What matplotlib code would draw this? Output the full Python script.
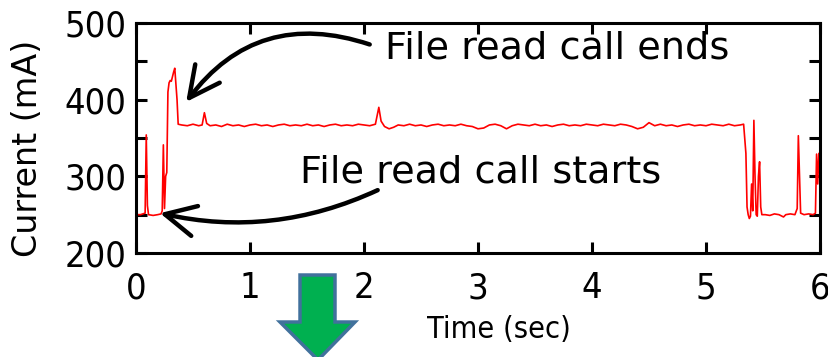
import matplotlib
matplotlib.use('Agg')
import matplotlib.pyplot as plt
from matplotlib.patches import Polygon

# current trace (time in sec, current in mA)
time_s = [0.00, 0.04, 0.08, 0.09, 0.10, 0.11, 0.15, 0.19, 0.22, 0.23, 0.24, 0.25,
          0.26, 0.27, 0.28, 0.29, 0.30, 0.31, 0.32, 0.33, 0.34, 0.35, 0.36, 0.37,
          0.40, 0.45, 0.50, 0.55, 0.58, 0.60, 0.62, 0.65, 0.70, 0.75, 0.80, 0.85,
          0.90, 0.95, 1.00, 1.05, 1.10, 1.15, 1.20, 1.25, 1.30, 1.35, 1.40, 1.45,
          1.50, 1.55, 1.60, 1.65, 1.70, 1.75, 1.80, 1.85, 1.90, 1.95, 2.00, 2.05,
          2.10, 2.13, 2.15, 2.18, 2.22, 2.26, 2.30, 2.35, 2.40, 2.45, 2.50, 2.55,
          2.60, 2.65, 2.70, 2.75, 2.80, 2.85, 2.90, 2.95, 3.00, 3.05, 3.10, 3.15,
          3.20, 3.25, 3.30, 3.35, 3.40, 3.45, 3.50, 3.55, 3.60, 3.65, 3.70, 3.75,
          3.80, 3.85, 3.90, 3.95, 4.00, 4.05, 4.10, 4.15, 4.20, 4.25, 4.30, 4.35,
          4.40, 4.45, 4.50, 4.55, 4.60, 4.65, 4.70, 4.75, 4.80, 4.85, 4.90, 4.95,
          5.00, 5.05, 5.10, 5.15, 5.20, 5.25, 5.30, 5.33, 5.35, 5.36, 5.37, 5.38,
          5.39, 5.40, 5.41, 5.42, 5.43, 5.44, 5.45, 5.46, 5.47, 5.48, 5.49, 5.52,
          5.56, 5.60, 5.64, 5.68, 5.70, 5.74, 5.78, 5.80, 5.81, 5.82, 5.83, 5.86,
          5.90, 5.94, 5.96, 5.97, 5.98, 5.99, 6.00]
current_ma = [250, 250, 252, 354, 262, 250, 249, 250, 251, 255, 341, 258,
              300, 305, 410, 422, 425, 424, 430, 436, 441, 420, 400, 368,
              367, 366, 368, 366, 367, 383, 369, 366, 367, 365, 368, 366,
              367, 365, 367, 368, 366, 367, 365, 367, 368, 366, 367, 366,
              368, 366, 367, 365, 367, 368, 366, 367, 366, 368, 367, 366,
              368, 390, 372, 365, 362, 364, 367, 366, 368, 366, 367, 365,
              367, 368, 366, 367, 366, 368, 366, 365, 362, 363, 367, 368,
              366, 362, 366, 368, 367, 366, 368, 366, 367, 365, 367, 368,
              366, 367, 366, 368, 367, 366, 368, 367, 366, 368, 367, 365,
              362, 364, 370, 366, 368, 366, 367, 365, 367, 368, 366, 367,
              366, 368, 367, 366, 368, 366, 367, 368, 330, 260, 250, 245,
              248, 290, 255, 373, 300, 250, 248, 300, 319, 260, 250, 250,
              249, 251, 250, 247, 250, 251, 250, 258, 353, 300, 252, 250,
              251, 250, 252, 329, 290, 330, 300]

x_ticks = [0, 1, 2, 3, 4, 5, 6]
y_ticks = [200, 300, 400, 500]
y_minor = [250, 350, 450]

W, H = 829, 357
fig = plt.figure(figsize=(W / 100, H / 100), dpi=100)
ax = fig.add_axes([136 / W, 1 - 253 / H, 684 / W, 230 / H])

ax.plot(time_s, current_ma, color='red', lw=1.2)
ax.set_xlim(0, 6)
ax.set_ylim(200, 500)
ax.set_xticks(x_ticks)
ax.set_yticks(y_ticks)
ax.set_yticks(y_minor, minor=True)

for lab in ax.get_xticklabels() + ax.get_yticklabels():
    lab.set_family('DejaVu Sans')
    lab.set_stretch('condensed')
    lab.set_fontsize(26)
ax.tick_params(which='both', direction='in', top=True, right=True,
               length=8, width=2.2)
ax.tick_params(axis='x', pad=13)
ax.tick_params(axis='y', pad=7)
for s in ax.spines.values():
    s.set_linewidth(2.2)

ax.set_xlabel('Time (sec)', fontsize=22, stretch='condensed')
ax.xaxis.set_label_coords(0.53, -0.27)
ax.set_ylabel('Current (mA)', fontsize=24)
ax.yaxis.set_label_coords(-0.135, 0.455)

# annotations
ax.text(2.18, 454, 'File read call ends', fontsize=27.5, va='baseline', ha='left')
ax.text(1.44, 292, 'File read call starts', fontsize=27.5, va='baseline', ha='left')
arrow = dict(arrowstyle='->, head_length=1.1, head_width=0.55', lw=3.2,
             color='black', shrinkA=0, shrinkB=0, mutation_scale=20)
ax.annotate('', xy=(0.44, 397), xytext=(2.05, 472),
            arrowprops=dict(arrow, connectionstyle='arc3,rad=0.36'))
ax.annotate('', xy=(0.21, 252), xytext=(2.12, 282),
            arrowprops=dict(arrow, connectionstyle='arc3,rad=-0.17'))

# green block arrow under the axis
pts = [(300, 275), (335, 275), (335, 322), (355, 322), (318, 360),
       (280, 322), (300, 322)]
green = Polygon([(x / W, 1 - y / H) for x, y in pts], closed=True,
                transform=fig.transFigure, facecolor='#00B050',
                edgecolor='#41719C', lw=2.5)
fig.add_artist(green)

fig.savefig('out.png', dpi=100)
